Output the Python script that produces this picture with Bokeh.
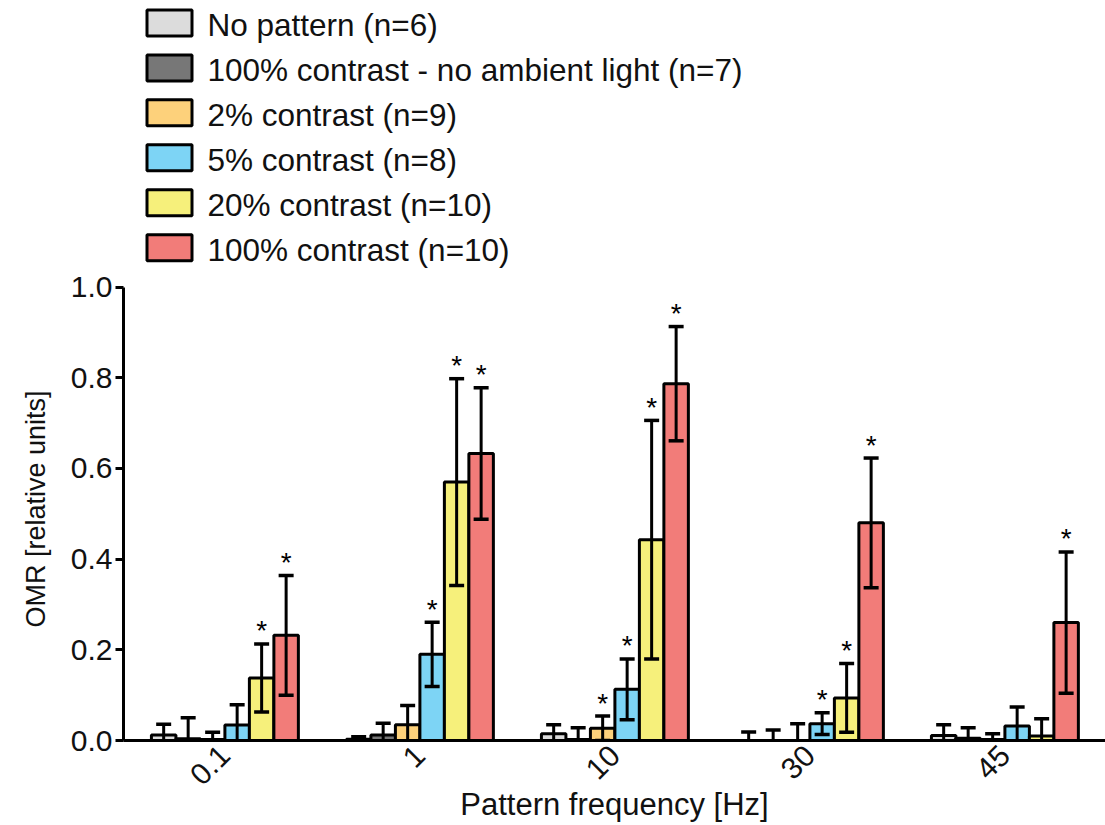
from bokeh.plotting import figure
from bokeh.models import ColumnDataSource, Range1d, FixedTicker, PrintfTickFormatter, Title
from bokeh.core.properties import value
from bokeh.embed import file_html
from bokeh.resources import INLINE

# ---------------- data ----------------
freqs = ["0.1", "1", "10", "30", "45"]
series = [
    "No pattern (n=6)",
    "100% contrast - no ambient light (n=7)",
    "2% contrast (n=9)",
    "5% contrast (n=8)",
    "20% contrast (n=10)",
    "100% contrast (n=10)",
]
colors = ["#dcdcdc", "#777777", "#fdd17b", "#7dd4f5", "#f6f07b", "#f27c79"]

mean_none = [0.012, 0.003, 0.015, 0.0, 0.011]
sd_none = [0.024, 0.005, 0.020, 0.019, 0.024]
mean_dark = [0.004, 0.012, 0.002, 0.0, 0.005]
sd_dark = [0.046, 0.026, 0.026, 0.023, 0.023]
mean_c2 = [0.002, 0.035, 0.027, 0.0, 0.002]
sd_c2 = [0.016, 0.042, 0.027, 0.037, 0.013]
mean_c5 = [0.034, 0.190, 0.113, 0.037, 0.032]
sd_c5 = [0.045, 0.071, 0.067, 0.024, 0.042]
mean_c20 = [0.138, 0.570, 0.443, 0.094, 0.010]
sd_c20 = [0.075, 0.228, 0.263, 0.076, 0.038]
mean_c100 = [0.232, 0.633, 0.787, 0.480, 0.260]
sd_c100 = [0.132, 0.145, 0.126, 0.143, 0.156]

sig_none = [0, 0, 0, 0, 0]
sig_dark = [0, 0, 0, 0, 0]
sig_c2 = [0, 0, 1, 0, 0]
sig_c5 = [0, 1, 1, 1, 0]
sig_c20 = [1, 1, 1, 1, 0]
sig_c100 = [1, 1, 1, 1, 1]

y_ticks = [0.0, 0.2, 0.4, 0.6, 0.8, 1.0]

means = [mean_none, mean_dark, mean_c2, mean_c5, mean_c20, mean_c100]
sds = [sd_none, sd_dark, sd_c2, sd_c5, sd_c20, sd_c100]
sigs = [sig_none, sig_dark, sig_c2, sig_c5, sig_c20, sig_c100]

FONT = "Liberation Sans"

# ---------------- layout constants (pixels) ----------------
W, H = 1105, 825
LEFT = 123            # y-axis position
BOTTOM_BORDER = 84    # room for the x axis
AXIS_H = 454          # pixel height of the 0..1 value span
GROUP_PX = 195        # pixel distance between groups
X0 = -0.52
FRAME_W = W - LEFT
FRAME_H = H - BOTTOM_BORDER
Y_TOP = FRAME_H / AXIS_H
X_END = X0 + FRAME_W / GROUP_PX
BW = 0.1256  # bar width in group units


def px_x(px):
    return X0 + (px - LEFT) / GROUP_PX


def px_y(py):
    return (FRAME_H - py) / AXIS_H


# ---------------- figure ----------------
p = figure(width=W, height=H, output_backend="svg", toolbar_location=None,
           x_range=Range1d(X0, X_END), y_range=Range1d(0, Y_TOP),
           min_border_left=LEFT, min_border_right=0, min_border_top=0,
           min_border_bottom=BOTTOM_BORDER, outline_line_color=None)
p.grid.visible = False

srcs = []
for i in range(len(series)):
    xs = [k + (i - 2.5) * BW for k in range(len(freqs))]
    up = [m + s for m, s in zip(means[i], sds[i])]
    lo = [m - s for m, s in zip(means[i], sds[i])]
    star = ["*" if f else "" for f in sigs[i]]
    srcs.append(ColumnDataSource(dict(x=xs, top=means[i], up=up, lo=lo, star=star)))

for i, src in enumerate(srcs):
    p.vbar(x="x", top="top", bottom=0, width=BW, source=src,
           fill_color=colors[i], line_color="black", line_width=3)
for i, src in enumerate(srcs):
    p.segment(x0="x", y0="lo", x1="x", y1="up", source=src,
              line_color="black", line_width=3)
    p.scatter(x="x", y="up", source=src, marker="dash", size=15,
              line_color="black", line_width=3.5)
    p.scatter(x="x", y="lo", source=src, marker="dash", size=15,
              line_color="black", line_width=3.5)
    p.text(x="x", y="up", text="star", source=src, text_align="center",
           text_baseline="alphabetic", y_offset=-13,
           text_font=value(FONT), text_font_size="28px", text_color="black")

# ---------------- legend (drawn above the value span) ----------------
row_step = 45.0
rows_py = [22.5 + row_step * i for i in range(len(series))]
leg_src = ColumnDataSource(dict(
    bx=[px_x(169)] * len(series),
    tx=[px_x(207)] * len(series),
    by=[px_y(v) for v in rows_py],
    ty=[px_y(v + 2) for v in rows_py],
    label=series,
    color=colors,
))
p.rect(x="bx", y="by", width=45, height=26, width_units="screen",
       height_units="screen", fill_color="color", line_color="black",
       line_width=3, source=leg_src)
p.text(x="tx", y="ty", text="label", source=leg_src,
       text_font=value(FONT), text_font_size="31.5px", text_color="#111111",
       text_baseline="middle", text_align="left")

# ---------------- axes ----------------
p.xaxis.ticker = FixedTicker(ticks=list(range(len(freqs))))
p.xaxis.major_label_overrides = {k: f for k, f in enumerate(freqs)}
p.xaxis.major_label_orientation = 0.785398
p.xaxis.major_tick_line_color = None
p.xaxis.minor_tick_line_color = None
p.xaxis.axis_line_width = 3
p.xaxis.axis_line_color = "black"
p.xaxis.axis_label = "Pattern frequency [Hz]"
p.xaxis.major_label_standoff = 4
p.xaxis.axis_label_standoff = -10

p.yaxis.bounds = (0, 1)
p.yaxis.ticker = FixedTicker(ticks=y_ticks)
p.yaxis.formatter = PrintfTickFormatter(format="%.1f")
p.yaxis.axis_line_width = 3
p.yaxis.major_tick_line_width = 3
p.yaxis.major_tick_in = 0
p.yaxis.major_tick_out = 8
p.yaxis.minor_tick_line_color = None
p.yaxis.major_label_standoff = 3

for ax in (p.xaxis, p.yaxis):
    ax.major_label_text_font = FONT
    ax.major_label_text_font_size = "30px"
    ax.major_label_text_color = "#111111"
    ax.axis_label_text_font = FONT
    ax.axis_label_text_font_style = "normal"
    ax.axis_label_text_color = "#111111"
p.xaxis.axis_label_text_font_size = "31px"

# y-axis title, centred on the 0..1 span rather than the whole frame
ytitle = Title(text="OMR [relative units]", align="left", offset=113,
               text_font=FONT, text_font_size="27px", text_font_style="normal",
               text_color="#111111", standoff=34)
p.add_layout(ytitle, "left")

open("out.html", "w").write(file_html(p, INLINE))
